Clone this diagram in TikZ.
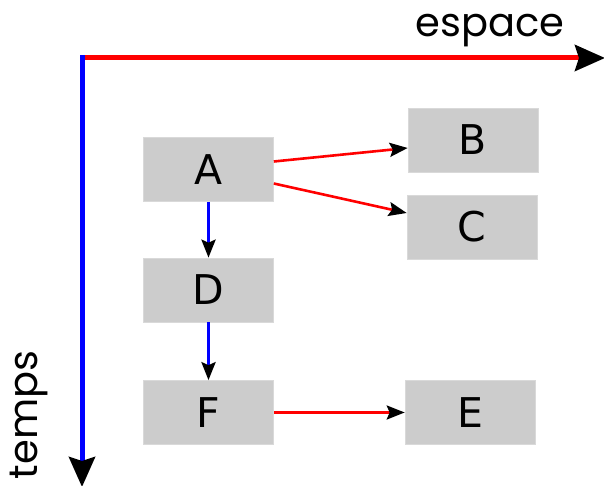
\documentclass[tikz,border=0pt]{standalone}
\usepackage{fontspec}
\newfontfamily\axisfont{Poppins}
\newfontfamily\boxfont{DejaVu Sans}
\usetikzlibrary{arrows.meta}
\begin{document}
\begin{tikzpicture}[x=1pt,y=1pt,
  box/.style={fill=black!20, draw=black!15, line width=0.6pt, minimum width=130pt, minimum height=64pt, inner sep=0pt, font=\boxfont\fontsize{41}{41}\selectfont},
  axislabel/.style={font=\axisfont\fontsize{40}{40}\selectfont, inner sep=0pt},
  bigtip/.style={-{Stealth[black,length=30pt,width=26pt,inset=4pt]}},
  smalltip/.style={-{Stealth[black,length=18pt,width=14pt,inset=3pt]}},
  spacelink/.style={smalltip, draw=red, line width=2.6pt},
  timelink/.style={smalltip, draw=blue, line width=3.2pt}]
\useasboundingbox (0,0) rectangle (604,486);
\coordinate (X) at (605,428);
\coordinate (T) at (82,-1);
\draw[bigtip, red, line width=5pt] (80,428) -- (X);
\draw[bigtip, blue, line width=5pt] (82,430.5) -- (T);
\node[axislabel, anchor=base] (esp) at (490,449) {espace};
\node[axislabel, rotate=90] (tmp) at (29,71) {temps};
\node[box] (A) at (208.5,316.5) {A};
\node[box] (B) at (473,346) {B};
\node[box] (C) at (472,259) {C};
\node[box] (D) at (208.5,196) {D};
\node[box] (F) at (208.5,73.5) {F};
\node[box] (E) at (470,73.5) {E};
\draw[spacelink] ([yshift=8pt]A.east) -- ([yshift=-8pt]B.west);
\draw[spacelink] ([yshift=-14pt]A.east) -- ([yshift=14pt]C.west);
\draw[spacelink] (F.east) -- (E.west);
\draw[timelink] (A.south) -- (D.north);
\draw[timelink] (D.south) -- (F.north);
\end{tikzpicture}
\end{document}
